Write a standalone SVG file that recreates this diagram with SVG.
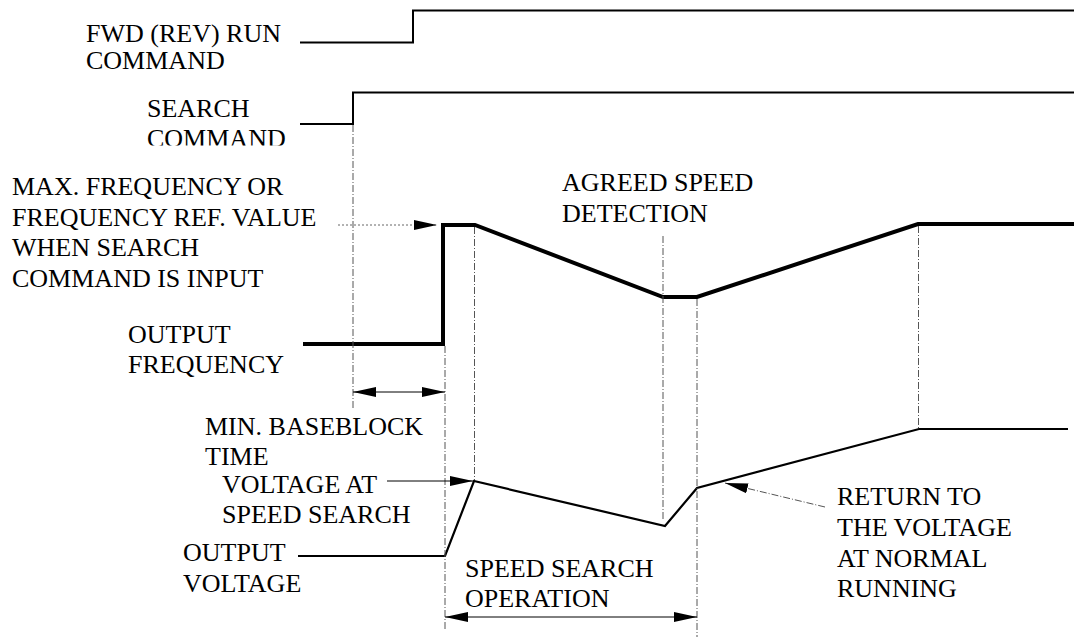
<svg xmlns="http://www.w3.org/2000/svg" width="1074" height="641" viewBox="0 0 1074 641">
<defs>
<style>
.t{font-family:'Liberation Serif','Times New Roman',serif;font-size:26px;fill:#000}
.sig{fill:none;stroke:#000;stroke-width:2}
.thick{fill:none;stroke:#000;stroke-width:4;stroke-linejoin:miter}
.volt{fill:none;stroke:#000;stroke-width:2.2}
.dd{fill:none;stroke:#555;stroke-width:1;stroke-dasharray:7 2 1 2}
.dot{fill:none;stroke:#666;stroke-width:1;stroke-dasharray:2 2}
.arr{fill:none;stroke:#000;stroke-width:1}
</style>
<marker id="ah" markerUnits="userSpaceOnUse" markerWidth="24" markerHeight="12" refX="23" refY="5.5" orient="auto-start-reverse" viewBox="0 0 24 11">
<path d="M0,0.5 L23,5.5 L0,10.5 Z" fill="#000"/>
</marker>
<clipPath id="clipcmd"><rect x="140" y="120" width="160" height="25.5"/></clipPath>
</defs>
<rect width="1074" height="641" fill="#fff"/>
<g id="fwd-run">
<text class="t" x="86" y="42">FWD (REV) RUN</text>
<text class="t" x="86" y="69">COMMAND</text>
<polyline class="sig" points="300,42.5 413,42.5 413,10.5 1074,10.5"/>
</g>
<g id="search-command">
<text class="t" x="147" y="117">SEARCH</text>
<text class="t" x="147" y="147" clip-path="url(#clipcmd)">COMMAND</text>
<polyline class="sig" points="300,124 353,124 353,92.5 1074,92.5"/>
</g>
<g id="max-frequency-label">
<text class="t" x="12" y="195">MAX. FREQUENCY OR</text>
<text class="t" x="12" y="226">FREQUENCY REF. VALUE</text>
<text class="t" x="12" y="256">WHEN SEARCH</text>
<text class="t" x="12" y="287">COMMAND IS INPUT</text>
</g>
<g id="output-frequency">
<text class="t" x="128" y="343">OUTPUT</text>
<text class="t" x="128" y="373">FREQUENCY</text>
<polyline class="thick" points="303,344 443,344 443,225 475,225 663,297 697,297 918,224 1074,224"/>
</g>
<g id="agreed-speed">
<text class="t" x="562" y="191">AGREED SPEED</text>
<text class="t" x="562" y="222">DETECTION</text>
</g>
<g id="min-baseblock">
<text class="t" x="205" y="435">MIN. BASEBLOCK</text>
<text class="t" x="205" y="465">TIME</text>
</g>
<g id="voltage-at-search">
<text class="t" x="222" y="493">VOLTAGE AT</text>
<text class="t" x="222" y="523">SPEED SEARCH</text>
</g>
<g id="output-voltage">
<text class="t" x="183" y="561">OUTPUT</text>
<text class="t" x="183" y="592">VOLTAGE</text>
<polyline class="volt" points="298,556 445,556 474,481 665,526 697,488 919,429 1068,429"/>
</g>
<g id="speed-search-op">
<text class="t" x="465" y="577">SPEED SEARCH</text>
<text class="t" x="465" y="607">OPERATION</text>
</g>
<g id="return-voltage">
<text class="t" x="837" y="505">RETURN TO</text>
<text class="t" x="837" y="536">THE VOLTAGE</text>
<text class="t" x="837" y="567">AT NORMAL</text>
<text class="t" x="837" y="597">RUNNING</text>
</g>
<g id="connectors">
<line class="dd" x1="353" y1="125" x2="353" y2="410"/>
<line class="dd" x1="445" y1="346" x2="445" y2="630"/>
<line class="dd" x1="474.5" y1="227" x2="474.5" y2="480"/>
<line class="dd" x1="663" y1="236" x2="663" y2="521"/>
<line class="dd" x1="697" y1="299" x2="697" y2="637"/>
<line class="dd" x1="918.5" y1="226" x2="918.5" y2="428"/>
<line class="dot" x1="338" y1="225" x2="437" y2="225" marker-end="url(#ah)"/>
<line class="arr" x1="353" y1="392" x2="445" y2="392" marker-start="url(#ah)" marker-end="url(#ah)"/>
<line class="arr" x1="387" y1="481" x2="473" y2="481" marker-end="url(#ah)"/>
<line class="arr" x1="445" y1="617" x2="697" y2="617" marker-start="url(#ah)" marker-end="url(#ah)"/>
<line class="dd" x1="825" y1="507" x2="725" y2="483" marker-end="url(#ah)"/>
</g>
</svg>
